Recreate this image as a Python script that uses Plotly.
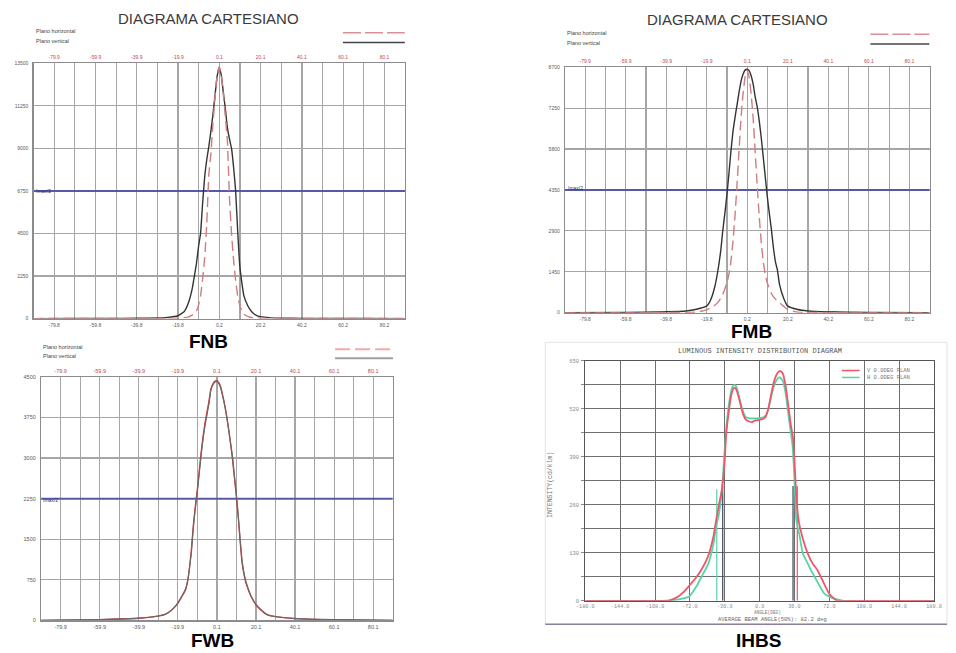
import plotly.graph_objects as go

W, H = 956, 653

# ================= DATA =================
# --- FNB (DIAGRAMA CARTESIANO, top-left) ---
fnb_v_angle = [-89.9, -70, -50, -40, -30, -25, -20, -17, -15, -13, -12, -11, -10, -9, -8, -7, -6, -5, -4, -3,
               -2, -1, 0, 1, 2, 3, 4, 5, 6, 7, 8, 9, 10, 11, 12, 14, 16, 18, 20, 25, 30, 40, 50, 70, 90.1]
fnb_v_value = [0, 5, 10, 15, 30, 60, 150, 360, 800, 1600, 2250, 2900, 3800, 4500, 6100, 7500, 8400, 9100, 9900, 10800,
               11800, 12800, 13300, 12900, 12000, 11100, 10100, 9500, 9000, 8000, 6750, 4600, 2800, 1900, 1200, 650, 330, 170, 100, 40,
               20, 10, 5, 3, 0]
fnb_h_angle = [-89.9, -60, -40, -20, -15, -12, -11, -10, -9, -8, -7, -6, -5, -4, -3, -2, -1, 0, 1, 2,
               3, 4, 5, 6, 7, 8, 9, 10, 11, 12, 15, 20, 40, 60, 90.1]
fnb_h_value = [0, 3, 5, 20, 80, 250, 400, 700, 1200, 2100, 3200, 5000, 7600, 8700, 10300, 11700, 12800, 13300, 12900, 11900,
               10700, 9400, 6400, 4500, 3100, 2000, 1200, 700, 400, 230, 70, 20, 5, 3, 0]
fnb_imax_half = 6750
fnb_yticks = [0, 2250, 4500, 6750, 9000, 11250, 13500]
fnb_top_labels = ["-79.9", "-59.9", "-39.9", "-19.9", "0.1", "20.1", "40.1", "60.1", "80.1"]
fnb_bottom_labels = ["-79.8", "-59.8", "-39.8", "-19.8", "0.2", "20.2", "40.2", "60.2", "80.2"]

# --- FMB (top-right) ---
fmb_v_angle = [-89.9, -60, -40, -30, -25, -20, -18, -16, -14.5, -13, -12, -11, -10, -9, -8, -7, -6, -5, -4, -3,
               -2, -1, 0, 1, 2, 3, 4, 5, 6, 7, 8, 9, 10, 11, 12, 13, 14, 15, 16, 18, 20, 25, 30, 40, 60, 90.1]
fmb_v_value = [0, 10, 30, 60, 120, 230, 450, 900, 1450, 2200, 2900, 3500, 4150, 4900, 5700, 6400, 6900, 7350, 7800, 8200,
               8450, 8600, 8630, 8580, 8400, 8100, 7650, 7300, 6800, 6200, 5500, 4800, 4100, 3500, 2950, 2300, 1800, 1500, 1000, 520,
               240, 110, 60, 30, 10, 0]
fmb_h_angle = [-89.9, -40, -25, -20, -18, -16, -14, -12, -10, -9, -8, -7, -6, -5, -4, -3, -2, -1, 0, 1,
               2, 3, 4, 5, 6, 7, 8, 9, 10, 12, 14, 16, 18, 20, 25, 40, 90.1]
fmb_h_value = [0, 5, 20, 100, 170, 260, 400, 650, 1050, 1350, 1800, 2500, 3400, 4500, 5700, 6900, 7750, 8350, 8600, 8350,
               7750, 6900, 5700, 4500, 3400, 2500, 1800, 1350, 1050, 680, 480, 350, 230, 110, 20, 5, 0]
fmb_imax_half = 4350
fmb_yticks = [0, 1450, 2900, 4350, 5800, 7250, 8700]
fmb_top_labels = ["-79.9", "-59.9", "-39.9", "-19.9", "0.1", "20.1", "40.1", "60.1", "80.1"]
fmb_bottom_labels = ["-79.8", "-59.8", "-39.8", "-19.8", "0.2", "20.2", "40.2", "60.2", "80.2"]

# --- FWB (bottom-left) ---
fwb_angle = [-89.9, -80, -60, -40, -30, -27, -25, -22, -20, -18, -16, -14.8, -14, -13, -12, -11, -10, -9, -8, -7,
             -6, -5, -4, -3, -2, -1, 0, 1, 2, 3, 4, 5, 6, 7, 8, 9, 10, 11, 12, 13,
             14.7, 16, 17.7, 20, 22, 26, 30, 40, 60, 80, 90.1]
fwb_v_value = [0, 5, 15, 40, 80, 104, 140, 230, 320, 440, 580, 750, 950, 1250, 1700, 2050, 2350, 2700, 3050, 3350,
               3600, 3800, 4000, 4250, 4350, 4400, 4420, 4380, 4300, 4150, 3980, 3780, 3550, 3300, 3050, 2700, 2350, 1950, 1500, 1100,
               750, 600, 440, 300, 220, 104, 70, 35, 12, 5, 0]
fwb_h_value = [0, 5, 14, 38, 78, 100, 135, 225, 310, 430, 560, 740, 960, 1300, 1750, 2100, 2400, 2750, 3100, 3400,
               3650, 3850, 4050, 4280, 4370, 4420, 4430, 4400, 4320, 4170, 4000, 3800, 3560, 3280, 3000, 2650, 2300, 1900, 1450, 1050,
               720, 580, 430, 290, 210, 100, 68, 33, 11, 5, 0]
fwb_imax_half = 2250
fwb_yticks = [0, 750, 1500, 2250, 3000, 3750, 4500]
fwb_top_labels = ["-79.9", "-59.9", "-39.9", "-19.9", "0.1", "20.1", "40.1", "60.1", "80.1"]
fwb_bottom_labels = ["-79.9", "-59.9", "-39.9", "-19.9", "0.1", "20.1", "40.1", "60.1", "80.1"]

# --- IHBS (bottom-right) ---
ihbs_v_angle = [-180, -100, -92, -85, -80, -73.6, -65, -60, -53.4, -48, -45, -42, -39, -36, -34.8, -31.4, -29, -27, -25.4, -23,
                -20, -17, -14, -10, -7.7, -5, 0, 3, 6, 9, 12, 15, 18, 21, 24, 27, 30, 32, 34.5, 36,
                38, 40.3, 45, 49.7, 55, 59.8, 65, 71.7, 76, 80, 100, 180]
ihbs_v_value = [0, 0, 2, 10, 20, 38, 65, 85, 119, 170, 217, 260, 300, 380, 441, 521, 560, 575, 577, 565,
                535, 505, 490, 485, 484, 488, 490, 492, 497, 520, 560, 595, 615, 623, 615, 580, 520, 480, 441, 380,
                280, 217, 165, 128, 100, 83, 55, 20, 8, 0, 0, 0]
ihbs_h_angle = [-180, -95, -85, -80, -73, -65, -60, -53, -48, -45, -42, -40, -38, -36, -34, -31, -28, -26, -24, -21,
                -18, -15, -12, -8, -4, 0, 4, 7, 10, 13, 16, 19, 21, 24, 27, 30, 32, 34, 36, 38,
                41, 44.6, 49, 53, 60, 66.6, 75, 87, 180]
ihbs_h_value = [0, 0, 3, 6, 11, 40, 65, 100, 150, 199, 235, 275, 330, 410, 480, 545, 580, 585, 580, 550,
                520, 500, 495, 494, 494, 495, 497, 505, 530, 565, 590, 603, 605, 595, 560, 500, 460, 420, 330, 217,
                180, 128, 105, 83, 50, 20, 8, 0, 0]
ihbs_mark_angle = [-44.2, -38.1, 34.5, 38.9]
ihbs_mark_value = [302, 311, 311, 311]
ihbs_x_labels = ["-180.0", "-144.0", "-108.0", "-72.0", "-36.0", "0.0", "36.0", "72.0", "108.0", "144.0", "180.0"]
ihbs_y_labels = ["0", "130", "260", "390", "520", "650"]

# ================= STYLE =================
GRID = "#a6a6a6"
FRAME = "#8c8c8c"
SANS = "Liberation Sans, Arial, sans-serif"
MONO = "Liberation Mono, Courier New, monospace"
RED_D = "#d07c82"
BLACK = "#333333"
BLUE = "#5858a8"


def px(x):
    return x / W


def py(y):
    return 1 - y / H


fig = go.Figure()
layout = dict(width=W, height=H, margin=dict(l=0, r=0, t=0, b=0),
              paper_bgcolor="white", plot_bgcolor="white", showlegend=False)


def cart_axes(xb, xt, ya, dom_x, dom_y, ymax, yticks, top_labels, bottom_labels, fs):
    xr = [-89.9, 90.1]
    grid = [round(xr[0] + 10 * i, 2) for i in range(19)]
    top_pos = [float(t) for t in top_labels]
    btext = []
    for g in grid:
        lab = ""
        for p, b in zip(top_pos, bottom_labels):
            if abs(p - g) < 0.05:
                lab = b
        btext.append(lab)
    xb_id = xb.replace("axis", "")
    ya_id = ya.replace("axis", "")
    layout[xb] = dict(domain=dom_x, anchor=ya_id, range=xr, tickmode="array", tickvals=grid, ticktext=btext,
                      showgrid=True, gridcolor=GRID, gridwidth=1.2, showline=True, linecolor=FRAME, linewidth=1.2,
                      zeroline=False, ticks="", ticklabelstandoff=1,
                      tickfont=dict(size=fs, color="#5a5a5a", family=SANS))
    layout[xt] = dict(overlaying=xb_id, anchor=ya_id, side="top", range=xr, tickmode="array",
                      tickvals=top_pos, ticktext=top_labels, showgrid=False, showline=True, linecolor=FRAME,
                      linewidth=1.2, zeroline=False, ticks="", ticklabelstandoff=1,
                      tickfont=dict(size=fs, color="#c0484e", family=SANS))
    layout[ya] = dict(domain=dom_y, anchor=xb_id, range=[0, ymax], tickmode="array", tickvals=yticks,
                      ticktext=[str(v) for v in yticks],
                      showgrid=True, gridcolor=GRID, gridwidth=1.2, showline=True, mirror=True, linecolor=FRAME,
                      linewidth=1.2, zeroline=False, ticks="", ticklabelstandoff=3,
                      tickfont=dict(size=fs, color="#5a5a5a", family=SANS))


# Panel 1: FNB
cart_axes("xaxis", "xaxis2", "yaxis", [px(25), px(403.3)], [py(319), py(61)], 13500, fnb_yticks,
          fnb_top_labels, fnb_bottom_labels, 5)
# Panel 2: FMB
cart_axes("xaxis3", "xaxis4", "yaxis2", [px(566), px(937.3)], [py(313), py(65)], 8700, fmb_yticks,
          fmb_top_labels, fmb_bottom_labels, 5)
# Panel 3: FWB
cart_axes("xaxis5", "xaxis6", "yaxis3", [px(32.7), px(390.7)], [py(624), py(378)], 4500, fwb_yticks,
          fwb_top_labels, fwb_bottom_labels, 5.5)

# Panel 4: IHBS axes
ihbs_xpos = [float(v) for v in ihbs_x_labels]
ihbs_ypos = [float(v) for v in ihbs_y_labels]
ihbs_ygrid = []
ihbs_ytext = []
for i in range(len(ihbs_ypos) - 1):
    ihbs_ygrid += [ihbs_ypos[i], (ihbs_ypos[i] + ihbs_ypos[i + 1]) / 2]
    ihbs_ytext += [ihbs_y_labels[i], ""]
ihbs_ygrid.append(ihbs_ypos[-1])
ihbs_ytext.append(ihbs_y_labels[-1])
layout["xaxis7"] = dict(domain=[px(586.7), px(941.7)], anchor="y4", range=[-180, 180], tickmode="array",
                        tickvals=ihbs_xpos, ticktext=ihbs_x_labels, showgrid=True, gridcolor="#6e6e6e", gridwidth=1,
                        showline=True, mirror=True, linecolor="#555555", linewidth=1, zeroline=False, ticks="",
                        ticklabelstandoff=0, tickfont=dict(size=5.2, color="#8a8a8a", family=MONO))
layout["yaxis4"] = dict(domain=[py(604.3), py(361.7)], anchor="x7", range=[0, 650], tickmode="array",
                        tickvals=ihbs_ygrid, ticktext=ihbs_ytext, showgrid=True, gridcolor="#6e6e6e", gridwidth=1,
                        showline=True, mirror=True, linecolor="#555555", linewidth=1, zeroline=False,
                        ticks="outside", ticklen=3, tickcolor="#888888", ticklabelstandoff=1,
                        tickfont=dict(size=5.5, color="#8a8a8a", family=MONO))

# ================= TRACES =================
def line(x, y, xa, ya, color, width, dash="solid", smooth=0.5):
    fig.add_trace(go.Scatter(x=x, y=y, xaxis=xa, yaxis=ya, mode="lines",
                             line=dict(color=color, width=width, dash=dash, shape="spline", smoothing=smooth),
                             hoverinfo="skip"))


def hline(val, xa, ya):
    fig.add_trace(go.Scatter(x=[-89.9, 90.1], y=[val, val], xaxis=xa, yaxis=ya, mode="lines",
                             line=dict(color=BLUE, width=2), hoverinfo="skip"))


# FNB
hline(fnb_imax_half, "x", "y")
line(fnb_v_angle, fnb_v_value, "x", "y", BLACK, 1.4, smooth=0.4)
line(fnb_h_angle, fnb_h_value, "x2", "y", RED_D, 1.4, "10px,5px", smooth=0.4)
# FMB
hline(fmb_imax_half, "x3", "y2")
line(fmb_v_angle, fmb_v_value, "x3", "y2", BLACK, 1.4)
line(fmb_h_angle, fmb_h_value, "x4", "y2", RED_D, 1.4, "10px,5px")
# FWB
hline(fwb_imax_half, "x5", "y3")
line(fwb_angle, fwb_h_value, "x5", "y3", "#e02828", 1.3)
line(fwb_angle, fwb_v_value, "x6", "y3", "#6a6a6a", 1.2)
# IHBS
IH_RED = "#f0566a"
IH_GREEN = "#55d4a4"
mark_colors = [IH_GREEN, "#3e4660", "#3e4660", IH_RED]
for a, v, c in zip(ihbs_mark_angle, ihbs_mark_value, mark_colors):
    fig.add_trace(go.Scatter(x=[a, a], y=[0, v], xaxis="x7", yaxis="y4", mode="lines",
                             line=dict(color=c, width=1.2), hoverinfo="skip"))
line(ihbs_h_angle, ihbs_h_value, "x7", "y4", IH_GREEN, 1.8)
line(ihbs_v_angle, ihbs_v_value, "x7", "y4", IH_RED, 1.8)

# ================= DECORATIONS =================
ann = []


def text(t, x, y, size, color="#333333", family=SANS, xanchor="center", yanchor="middle", angle=0):
    ann.append(dict(text=t, x=px(x), y=py(y), xref="paper", yref="paper", xanchor=xanchor, yanchor=yanchor,
                    showarrow=False, textangle=angle, font=dict(size=size, color=color, family=family)))


text("DIAGRAMA CARTESIANO", 203, 16, 15, "#3a3a3a")
text("DIAGRAMA CARTESIANO", 742, 17, 15, "#3a3a3a")
for (x0, ya, yb) in [(25, 28.5, 38.5), (566, 30.5, 40), (33, 348, 357)]:
    text("Plano horizontal", x0, ya, 5.5, "#444444", xanchor="left")
    text("Plano vertical", x0, yb, 5.5, "#444444", xanchor="left")
for (x0, y0, c) in [(35, 190.5, "#303070"), (577, 187.5, "#303070"), (42, 502.5, "#303070")]:
    text("Imax/2", x0, y0, 5, c)
text("<b>FNB</b>", 203, 342, 19, "#000000")
text("<b>FMB</b>", 756, 332, 19, "#000000")
text("<b>FWB</b>", 207, 644, 19, "#000000")
text("<b>IHBS</b>", 763, 644, 19, "#000000")
# IHBS texts
text("LUMINOUS INTENSITY DISTRIBUTION DIAGRAM", 765, 352, 7, "#555555", MONO)
text("INTENSITY(cd/klm)", 552, 487, 6.5, "#777777", MONO, angle=-90)
text("ANGLE(DEG)", 772, 616.5, 4.5, "#777777", MONO)
text("AVERAGE BEAM ANGLE(50%): 82.2 deg", 777, 623.5, 5.5, "#666666", MONO)
text("V 0.0DEG PLAN", 871, 371.5, 5.5, "#777777", MONO, xanchor="left")
text("H 0.0DEG PLAN", 871, 378.5, 5.5, "#777777", MONO, xanchor="left")

shapes = []


def seg(x0, y0, x1, y1, color, width, dash="solid"):
    shapes.append(dict(type="line", xref="paper", yref="paper", x0=px(x0), y0=py(y0), x1=px(x1), y1=py(y1),
                       line=dict(color=color, width=width, dash=dash)))


seg(340, 30, 403, 30, "#d89096", 1.5, "18px,4px")
seg(340, 40, 403, 40, "#444444", 1.5)
seg(877, 31.5, 937, 31.5, "#d89096", 1.5, "18px,4px")
seg(877, 41.5, 937, 41.5, "#444444", 1.5)
seg(332, 350, 391, 350, "#f4a8a8", 2, "15px,5px")
seg(332, 359, 391, 359, "#a0a0a0", 2)
seg(848, 371.5, 866, 371.5, IH_RED, 1.5)
seg(848, 378.5, 866, 378.5, IH_GREEN, 1.5)
shapes.append(dict(type="rect", xref="paper", yref="paper", x0=px(546), y0=py(628), x1=px(955), y1=py(343),
                   line=dict(color="#e2e2e2", width=1), layer="below"))
seg(546, 628, 955, 628, "#8a7f9c", 1.5)

layout["annotations"] = ann
layout["shapes"] = shapes
fig.update_layout(**layout)

fig.write_html("out.html", config={"displayModeBar": False, "staticPlot": True},
               post_script="document.body.style.margin='0';document.body.style.overflow='hidden';")
